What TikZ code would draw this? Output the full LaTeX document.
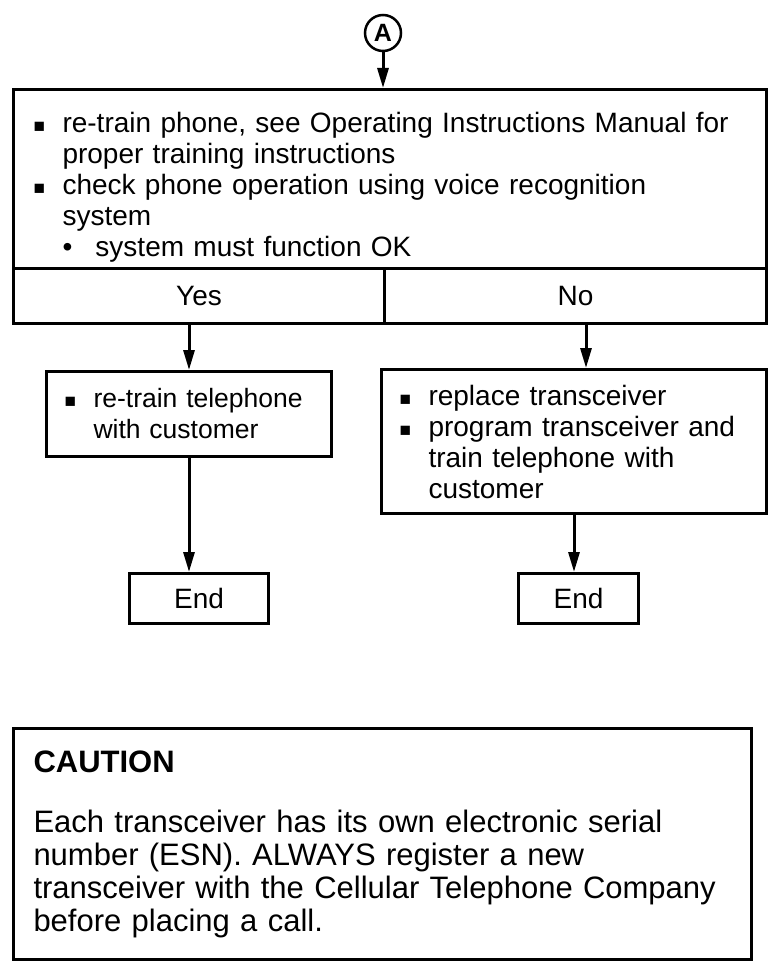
\documentclass[tikz,border=0pt]{standalone}
\usepackage{fontspec}
\setmainfont{Liberation Sans}
\usetikzlibrary{positioning,arrows.meta}

\tikzset{
	box/.style={draw,line width=3pt,anchor=north west,inner ysep=0pt},
	arr/.style={line width=3pt,-{Triangle[length=20pt,width=11pt]}},
	every node/.style={font=\fontsize{28}{31}\selectfont}
}
\newcommand{\sqbul}{\makebox[29pt][l]{\fontsize{19}{19}\selectfont ■}}
\newcommand{\rdbul}{\makebox[33pt][l]{•}}

\begin{document}
\begin{tikzpicture}[x=1pt,y=-1pt]
		
		\useasboundingbox (0,0) rectangle (768,966);
		
		\node[circle,draw,line width=2.5pt,minimum size=36pt,inner sep=0pt,
		font=\bfseries\fontsize{25}{25}\selectfont]
		(conn) at (383,33) {A};
		
		\node[box,minimum width=753,minimum height=179,inner xsep=20pt,
		text width=713,align=left]
		(steps) at (12,88)
		{\rule{0pt}{37pt}\sqbul re-train phone, see Operating Instructions Manual for\\
		\hspace*{29pt}proper training instructions\\
		\sqbul check phone operation using voice recognition\\
		\hspace*{29pt}system\\
		\hspace*{29pt}\rdbul system must function OK};
		
		\node[box,minimum width=371,minimum height=55]
		(yes) at (12,267) {Yes};
		
		\node[box,minimum width=382,minimum height=55]
		(no) at (383,267) {No};
		
		\node[box,minimum width=285,minimum height=85,inner xsep=18pt,
		text width=249,align=left,font=\fontsize{26.5}{31}\selectfont]
		(retrain) at (45,370)
		{\sqbul re-train telephone\\
		\hspace*{29pt}with customer};
		
		\node[box,minimum width=385,minimum height=144,inner xsep=18pt,
		text width=349,align=left]
		(replace) at (380,368)
		{\sqbul replace transceiver\\
		\sqbul program transceiver and\\
		\hspace*{29pt}train telephone with\\
		\hspace*{29pt}customer};
		
		\node[box,minimum width=139,minimum height=50]
		(endl) at (128,572) {End};
		
		\node[box,minimum width=120,minimum height=50]
		(endr) at (517,572) {End};
		
		% connectors
		\draw[arr] (conn.south) -- (conn.south |- steps.north);
		
		\draw[arr] (retrain.north |- yes.south) -- (retrain.north);
		
		\draw[arr] ([xshift=12pt]replace.north |- no.south) -- ([xshift=12pt]replace.north);
		
		\draw[arr] (retrain.south) -- (retrain.south |- endl.north);
		
		\draw[arr] (replace.south) -- (replace.south |- endr.north);
		
		\node[box,minimum width=738,minimum height=231,inner xsep=20pt,
		text width=698,align=left,font=\fontsize{31}{33}\selectfont]
		(caution) at (12,727)
		{\textbf{CAUTION}\\[27pt]
		Each transceiver has its own electronic serial\\
		number (ESN). ALWAYS register a new\\
		transceiver with the Cellular Telephone Company\\
		before placing a call.};
		
	\end{tikzpicture}
\end{document}
